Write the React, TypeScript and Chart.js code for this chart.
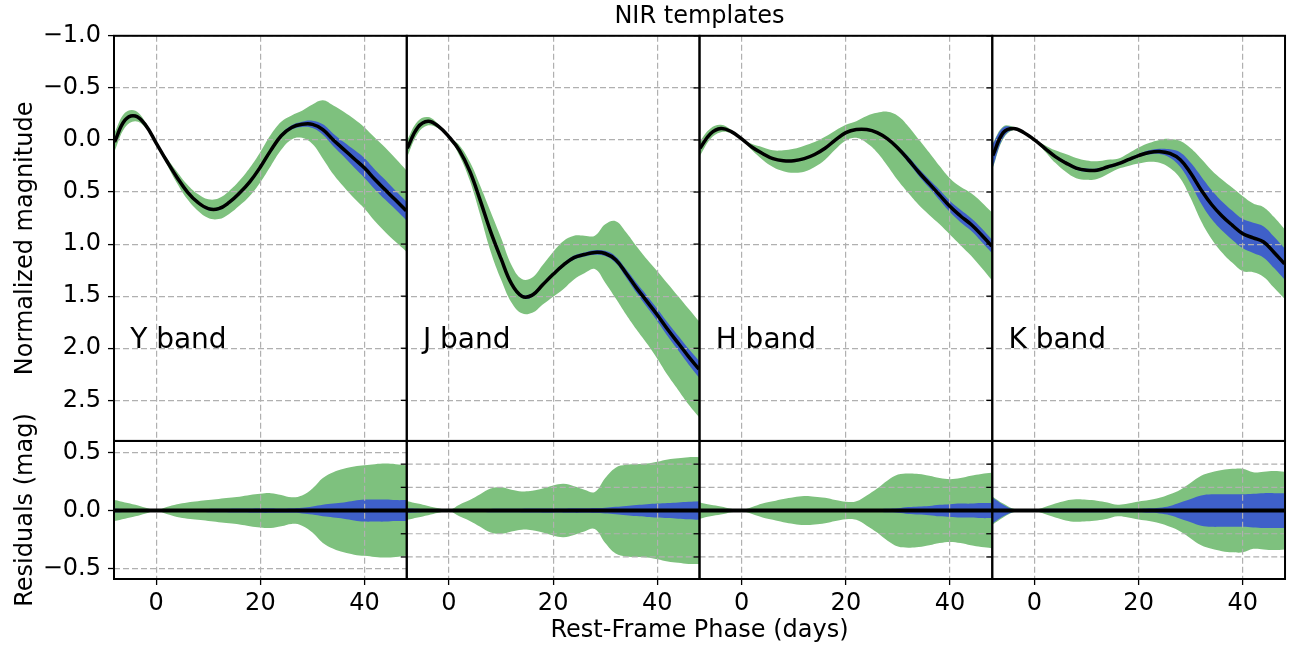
import React, { useEffect, useRef } from 'react';
import { Chart, registerables } from 'chart.js';

Chart.register(...registerables);

// ---------------- data ----------------
const PHASE = [-8, -6, -4, -2, 0, 2, 4, 6, 8, 10, 12, 14, 16, 18, 20, 22, 24, 26, 28, 30, 32, 34, 36, 38, 40, 42, 44, 46, 48];

const BAND_NAMES = ['Y band', 'J band', 'H band', 'K band'];

const Y_MEAN = [0.02, -0.19, -0.23, -0.14, 0.03, 0.2, 0.36, 0.5, 0.6, 0.66, 0.66, 0.6, 0.51, 0.4, 0.26, 0.1, -0.04, -0.12, -0.15, -0.15, -0.1, 0.0, 0.09, 0.18, 0.27, 0.38, 0.48, 0.58, 0.68];
const Y_OUTER = [0.09, 0.07, 0.05, 0.025, 0.004, 0.03, 0.055, 0.07, 0.08, 0.09, 0.1, 0.11, 0.12, 0.135, 0.145, 0.15, 0.135, 0.115, 0.13, 0.19, 0.28, 0.33, 0.36, 0.38, 0.39, 0.4, 0.405, 0.4, 0.39];
const Y_INNER = [0.015, 0.012, 0.01, 0.006, 0.003, 0.008, 0.01, 0.012, 0.013, 0.014, 0.015, 0.016, 0.017, 0.018, 0.02, 0.02, 0.018, 0.02, 0.025, 0.035, 0.05, 0.06, 0.07, 0.085, 0.095, 0.095, 0.095, 0.09, 0.09];

const J_MEAN = [0.08, -0.12, -0.18, -0.13, -0.03, 0.1, 0.3, 0.58, 0.88, 1.14, 1.38, 1.5, 1.49, 1.39, 1.29, 1.2, 1.13, 1.1, 1.08, 1.09, 1.15, 1.28, 1.42, 1.55, 1.68, 1.82, 1.95, 2.08, 2.2];
const J_OUTER = [0.08, 0.06, 0.04, 0.02, 0.004, 0.05, 0.09, 0.14, 0.19, 0.2, 0.18, 0.165, 0.17, 0.19, 0.215, 0.23, 0.21, 0.18, 0.16, 0.28, 0.37, 0.395, 0.4, 0.405, 0.42, 0.44, 0.45, 0.46, 0.46];
const J_INNER = [0.02, 0.015, 0.01, 0.006, 0.003, 0.008, 0.01, 0.012, 0.014, 0.015, 0.015, 0.016, 0.017, 0.018, 0.018, 0.018, 0.02, 0.02, 0.022, 0.025, 0.032, 0.04, 0.048, 0.055, 0.06, 0.065, 0.07, 0.075, 0.08];

const H_MEAN = [0.08, -0.06, -0.11, -0.08, -0.01, 0.07, 0.13, 0.18, 0.2, 0.2, 0.18, 0.14, 0.08, 0.0, -0.07, -0.1, -0.1, -0.07, -0.01, 0.08, 0.19, 0.31, 0.42, 0.53, 0.64, 0.73, 0.81, 0.91, 1.02];
const H_OUTER = [0.07, 0.05, 0.035, 0.015, 0.004, 0.03, 0.06, 0.08, 0.1, 0.115, 0.125, 0.12, 0.11, 0.09, 0.075, 0.08, 0.13, 0.19, 0.26, 0.31, 0.32, 0.315, 0.3, 0.28, 0.27, 0.28, 0.3, 0.315, 0.325];
const H_INNER = [0.012, 0.01, 0.008, 0.005, 0.003, 0.006, 0.008, 0.01, 0.01, 0.01, 0.01, 0.01, 0.01, 0.01, 0.01, 0.01, 0.012, 0.013, 0.015, 0.02, 0.03, 0.035, 0.04, 0.05, 0.055, 0.06, 0.06, 0.065, 0.065];

const K_MEAN = [0.15, -0.07, -0.11, -0.07, 0.0, 0.08, 0.16, 0.22, 0.27, 0.29, 0.29, 0.26, 0.23, 0.19, 0.15, 0.12, 0.11, 0.13, 0.19, 0.32, 0.48, 0.62, 0.73, 0.82, 0.9, 0.94, 0.98, 1.08, 1.19];
const K_OUTER = [0.12, 0.06, 0.015, 0.005, 0.004, 0.03, 0.06, 0.085, 0.097, 0.093, 0.085, 0.07, 0.05, 0.06, 0.077, 0.09, 0.11, 0.14, 0.18, 0.24, 0.3, 0.33, 0.35, 0.36, 0.36, 0.33, 0.335, 0.34, 0.335];
const K_INNER = [0.11, 0.05, 0.01, 0.005, 0.004, 0.015, 0.015, 0.015, 0.015, 0.015, 0.015, 0.015, 0.015, 0.015, 0.015, 0.02, 0.025, 0.04, 0.07, 0.1, 0.13, 0.14, 0.14, 0.14, 0.14, 0.145, 0.15, 0.15, 0.15];

const MEANS = [Y_MEAN, J_MEAN, H_MEAN, K_MEAN];
const OUTERS = [Y_OUTER, J_OUTER, H_OUTER, K_OUTER];
const INNERS = [Y_INNER, J_INNER, H_INNER, K_INNER];

const X_TICKS = [0, 20, 40];
const TOP_TICKS = [-1.0, -0.5, 0.0, 0.5, 1.0, 1.5, 2.0, 2.5];
const RES_TICKS = [-0.5, 0.0, 0.5];
const RES_GRID_FIRST = [-0.5, 0.0, 0.5];
const RES_GRID_OTHER = [-0.4, -0.2, 0.0, 0.2, 0.4];
const LABEL_AT = { x: -5, y: 2.0 };

// ---------------- style ----------------
const GREEN = '#7ec17e';
const BLUE = '#3f60c9';
const GRID = '#b0b0b0';
const FONT = 'DejaVu Sans';

const fmt = (v: number) => (v < 0 ? '\u2212' : '') + Math.abs(v).toFixed(1);

const panelPlugin = {
  id: 'panels',
  beforeDatasetsDraw(chart: any) {
    const ctx = chart.ctx;
    const yRes = chart.scales.yRes;
    ctx.save();
    ctx.strokeStyle = GRID;
    ctx.lineWidth = 1.2;
    ctx.setLineDash([6, 3]);
    for (let i = 0; i < 4; i++) {
      const xs = chart.scales['x' + i];
      const vals = i === 0 ? RES_GRID_FIRST : RES_GRID_OTHER;
      for (const v of vals) {
        const y = yRes.getPixelForValue(v);
        ctx.beginPath();
        ctx.moveTo(xs.left, y);
        ctx.lineTo(xs.right, y);
        ctx.stroke();
      }
    }
    ctx.restore();
  },
  afterDraw(chart: any) {
    const ctx = chart.ctx;
    const yTop = chart.scales.yTop;
    const yRes = chart.scales.yRes;
    ctx.save();
    // band labels
    ctx.fillStyle = '#000';
    ctx.font = `28px "${FONT}"`;
    ctx.textBaseline = 'alphabetic';
    ctx.textAlign = 'left';
    for (let i = 0; i < 4; i++) {
      const xs = chart.scales['x' + i];
      ctx.fillText(BAND_NAMES[i], xs.getPixelForValue(LABEL_AT.x), yTop.getPixelForValue(LABEL_AT.y));
    }
    // tick marks at inner panel boundaries
    ctx.strokeStyle = '#000';
    ctx.lineWidth = 1.3;
    for (let i = 1; i < 4; i++) {
      const xs = chart.scales['x' + i];
      const tickSets: [any, number[]][] = [[yTop, TOP_TICKS], [yRes, RES_GRID_OTHER]];
      for (const [sc, vals] of tickSets) {
        for (const v of vals) {
          const y = sc.getPixelForValue(v);
          ctx.beginPath();
          ctx.moveTo(xs.left - 6, y);
          ctx.lineTo(xs.left, y);
          ctx.stroke();
        }
      }
    }
    // panel frames
    ctx.lineWidth = 2;
    for (let i = 0; i < 4; i++) {
      const xs = chart.scales['x' + i];
      for (const ys of [yTop, yRes]) {
        ctx.strokeRect(xs.left, ys.top, xs.right - xs.left, ys.bottom - ys.top);
      }
    }
    ctx.restore();
  },
};

function buildDatasets() {
  const sets: any[] = [];
  const base = {
    pointRadius: 0,
    borderWidth: 0,
    borderColor: 'rgba(0,0,0,0)',
    tension: 0.4,
  };
  for (let i = 0; i < 4; i++) {
    const m = MEANS[i];
    const o = OUTERS[i];
    const n = INNERS[i];
    const xAxisID = 'x' + i;
    const top = (sig: number[], s: number) => PHASE.map((p, k) => ({ x: p, y: m[k] + s * sig[k] }));
    const res = (sig: number[], s: number) => PHASE.map((p, k) => ({ x: p, y: s * sig[k] }));
    // top panel: each filled band = (lower edge, filled to next) + (upper edge)
    sets.push({ ...base, xAxisID, yAxisID: 'yTop', data: top(o, -1), fill: '+1', backgroundColor: GREEN, order: 3 });
    sets.push({ ...base, xAxisID, yAxisID: 'yTop', data: top(o, 1), fill: false, order: 3 });
    sets.push({ ...base, xAxisID, yAxisID: 'yTop', data: top(n, -1), fill: '+1', backgroundColor: BLUE, order: 2 });
    sets.push({ ...base, xAxisID, yAxisID: 'yTop', data: top(n, 1), fill: false, order: 2 });
    sets.push({ ...base, xAxisID, yAxisID: 'yTop', data: PHASE.map((p, k) => ({ x: p, y: m[k] })), fill: false, borderWidth: 3.5, borderColor: '#000', order: 1 });
    // residual panel
    sets.push({ ...base, xAxisID, yAxisID: 'yRes', data: res(o, -1), fill: '+1', backgroundColor: GREEN, order: 3 });
    sets.push({ ...base, xAxisID, yAxisID: 'yRes', data: res(o, 1), fill: false, order: 3 });
    sets.push({ ...base, xAxisID, yAxisID: 'yRes', data: res(n, -1), fill: '+1', backgroundColor: BLUE, order: 2 });
    sets.push({ ...base, xAxisID, yAxisID: 'yRes', data: res(n, 1), fill: false, order: 2 });
    sets.push({ ...base, xAxisID, yAxisID: 'yRes', data: [{ x: PHASE[0], y: 0 }, { x: PHASE[PHASE.length - 1], y: 0 }], fill: false, borderWidth: 4, borderColor: '#000', order: 1 });
  }
  return sets;
}

function buildScales() {
  const scales: any = {};
  for (let i = 0; i < 4; i++) {
    scales['x' + i] = {
      type: 'linear',
      position: 'bottom',
      stack: 'phase',
      stackWeight: 1,
      weight: 0,
      min: -8.1,
      max: 48.1,
      afterBuildTicks: (s: any) => { s.ticks = X_TICKS.map((v) => ({ value: v })); },
      afterFit: (s: any) => { s.height = 42; },
      ticks: { color: '#000', font: { size: 24, family: FONT }, padding: 4, maxRotation: 0, callback: (v: any) => String(v) },
      grid: { color: GRID, lineWidth: 1.2, tickColor: '#000', tickLength: 6, tickWidth: 1.3 },
      border: { display: false, dash: [6, 3] },
    };
  }
  scales.xAll = {
    type: 'linear',
    position: 'bottom',
    weight: 1,
    min: 0,
    max: 1,
    afterFit: (s: any) => { s.height = 27; },
    ticks: { display: false },
    grid: { display: false, drawTicks: false },
    border: { display: false },
    title: { display: true, text: 'Rest-Frame Phase (days)', color: '#000', font: { size: 24, family: FONT }, padding: { top: 0, bottom: 3 } },
  };
  scales.yTop = {
    type: 'linear',
    position: 'left',
    stack: 'mag',
    stackWeight: 405,
    weight: 1,
    reverse: true,
    min: -1.0,
    max: 2.89,
    afterBuildTicks: (s: any) => { s.ticks = TOP_TICKS.map((v) => ({ value: v })); },
    afterFit: (s: any) => { s.width = 114; },
    ticks: { color: '#000', font: { size: 24, family: FONT }, padding: 7, callback: (v: any) => fmt(Number(v)) },
    grid: { color: GRID, lineWidth: 1.2, tickColor: '#000', tickLength: 6, tickWidth: 1.3 },
    border: { display: false, dash: [6, 3] },
    title: { display: true, text: 'Normalized magnitude', color: '#000', font: { size: 24, family: FONT }, padding: { top: 11, bottom: 0 } },
  };
  scales.yRes = {
    type: 'linear',
    position: 'left',
    stack: 'mag',
    stackWeight: 138,
    weight: 0,
    min: -0.59,
    max: 0.6,
    afterBuildTicks: (s: any) => { s.ticks = RES_TICKS.map((v) => ({ value: v })); },
    afterFit: (s: any) => { s.width = 114; },
    ticks: { color: '#000', font: { size: 24, family: FONT }, padding: 7, callback: (v: any) => fmt(Number(v)) },
    grid: { drawOnChartArea: false, color: GRID, tickColor: '#000', tickLength: 6, tickWidth: 1.3 },
    border: { display: false },
    title: { display: true, text: 'Residuals (mag)', color: '#000', font: { size: 24, family: FONT }, padding: { top: 11, bottom: 0 } },
  };
  return scales;
}

export default function App() {
  const ref = useRef<HTMLCanvasElement>(null);
  useEffect(() => {
    if (!ref.current) return;
    Chart.defaults.font.family = FONT;
    const chart = new Chart(ref.current, {
      type: 'line',
      data: { datasets: buildDatasets() },
      options: {
        responsive: false,
        animation: false,
        events: [],
        layout: { padding: { left: 0, right: 8, top: 0, bottom: 0 } },
        plugins: {
          legend: { display: false },
          tooltip: { enabled: false },
          filler: { drawTime: 'beforeDraw' },
          title: {
            display: true,
            text: 'NIR templates',
            fullSize: false,
            color: '#000',
            font: { size: 24, family: FONT, weight: 'normal' },
            padding: { top: 2, bottom: 5 },
          },
        },
        scales: buildScales(),
      } as any,
      plugins: [panelPlugin],
    });
    return () => chart.destroy();
  }, []);
  return (
    <div style={{ position: 'absolute', left: 0, top: 0, width: 1294, height: 648, background: '#fff' }}>
      <canvas ref={ref} width={1294} height={648} />
    </div>
  );
}
